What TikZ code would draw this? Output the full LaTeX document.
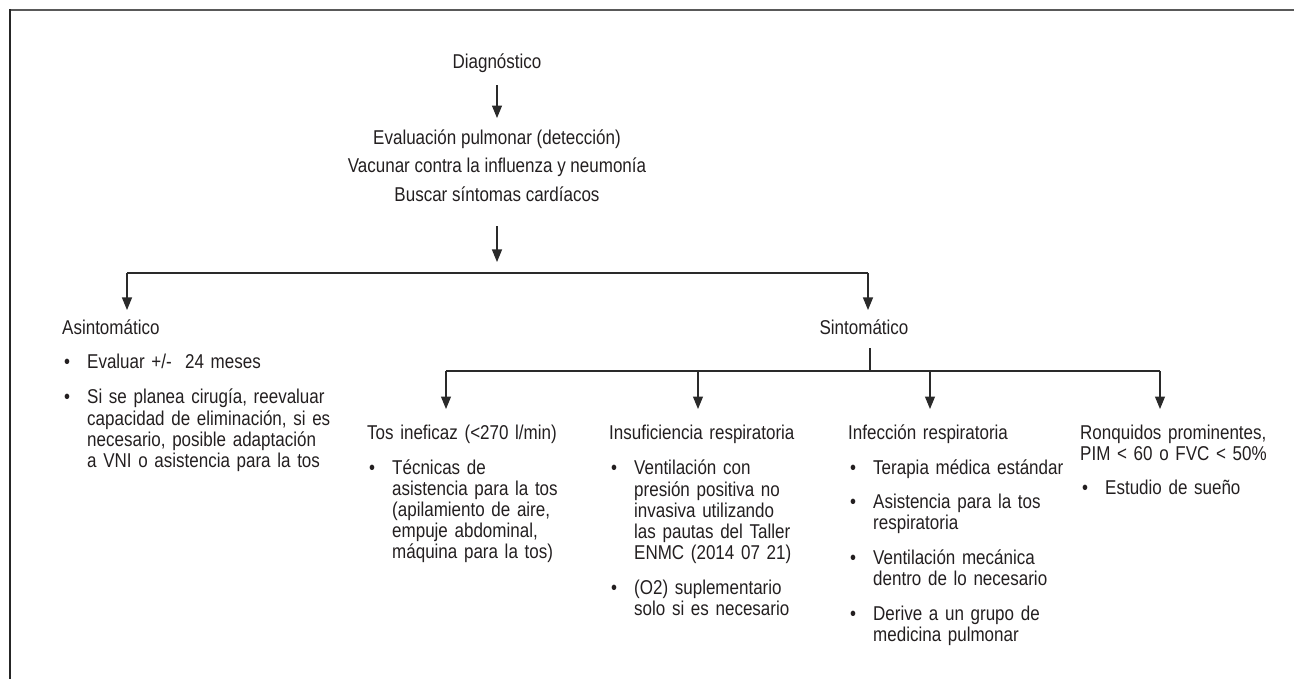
\documentclass[tikz,border=0pt]{standalone}
\usepackage{fontspec}
\setmainfont[FakeStretch=0.85]{Liberation Sans}
\usepackage{xcolor}
\usetikzlibrary{arrows.meta,positioning}
\definecolor{inkgray}{HTML}{231F20}
\definecolor{linegray}{HTML}{2A2A2A}
\setlength{\parskip}{0pt}
\lineskiplimit=-100pt
\newcommand{\mainfs}{\fontsize{20}{21}\selectfont}
\newcommand{\evalfs}{\fontsize{20}{28.5}\selectfont}
\newcommand{\bitem}[1]{\par\vspace{13pt}\noindent\makebox[25pt][l]{\hspace{2pt}\textbullet}\parbox[t]{250pt}{\raggedright\strut #1\strut}}

\begin{document}
\begin{tikzpicture}[x=1pt,y=-1pt,
  txt/.style={inner sep=0pt,font=\mainfs,text=inkgray},
  col/.style={txt,anchor=north west,text width=#1,align=left},
  col/.default=220pt,
  conn/.style={draw=linegray,line width=1.1pt},
  arr/.style={conn,-{Triangle[length=12.5pt,width=10pt]}}]
\useasboundingbox (0,0) rectangle (1294,679);
\draw[black!65,line width=2pt] (10,10) -- (1294,10);
\draw[black!85,line width=2pt] (10,9) -- (10,679);
\node[txt,anchor=base] (diag) at (497,69) {Diagnóstico};
\node[txt,anchor=north,align=center,font=\evalfs] (evalbox) at (497,124.05) {\strut Evaluación pulmonar (detección)\\Vacunar contra la influenza y neumonía\\Buscar síntomas cardíacos\strut};
\coordinate (split) at (497,262);
\coordinate (bl) at (127,273); \coordinate (br) at (868,273);
\node[col=290pt] (asin) at (62,319.3) {\strut Asintomático\bitem{Evaluar +/-\ \ 24 meses}\bitem{Si se planea cirugía, reevaluar\\capacidad de eliminación, si es\\necesario, posible adaptación\\a VNI o asistencia para la tos}};
\node[txt,anchor=north] (sint) at (864,319.3) {\strut Sintomático};
\coordinate (bs) at (870,371);
\coordinate (s1) at (446,371); \coordinate (s2) at (698,371);
\coordinate (s3) at (930,371); \coordinate (s4) at (1160,371);
\node[col] (tos) at (367,424.3) {\strut Tos ineficaz (<270 l/min)\bitem{Técnicas de\\asistencia para la tos\\(apilamiento de aire,\\empuje abdominal,\\máquina para la tos)}};
\node[col] (insu) at (609,424.3) {\strut Insuficiencia respiratoria\bitem{Ventilación con\\presión positiva no\\invasiva utilizando\\las pautas del Taller\\ENMC (2014 07 21)}\bitem{(O2) suplementario\\solo si es necesario}};
\node[col] (infe) at (848,424.3) {\strut Infección respiratoria\bitem{Terapia médica estándar}\bitem{Asistencia para la tos\\respiratoria}\bitem{Ventilación mecánica\\dentro de lo necesario}\bitem{Derive a un grupo de\\medicina pulmonar}};
\node[col=200pt] (ronq) at (1080,424.3) {\strut Ronquidos prominentes,\newline PIM < 60 o FVC < 50\%\bitem{Estudio de sueño}};
\draw[arr,shorten <=12pt,shorten >=6pt] (diag) -- (evalbox);
\draw[arr,shorten <=16.4pt] (evalbox) -- (split);
\draw[conn] (bl) -- (br);
\draw[arr,shorten >=9.3pt] (bl) -- (bl |- asin.north);
\draw[arr,shorten >=9.3pt] (br) -- (br |- sint.north);
\draw[conn,shorten <=7.7pt] (sint.south -| bs) -- (bs);
\draw[conn] (s1) -- (s4);
\draw[arr,shorten >=15.3pt] (s1) -- (s1 |- tos.north);
\draw[arr,shorten >=15.3pt] (s2) -- (s2 |- insu.north);
\draw[arr,shorten >=15.3pt] (s3) -- (s3 |- infe.north);
\draw[arr,shorten >=15.3pt] (s4) -- (s4 |- ronq.north);
\end{tikzpicture}
\end{document}
